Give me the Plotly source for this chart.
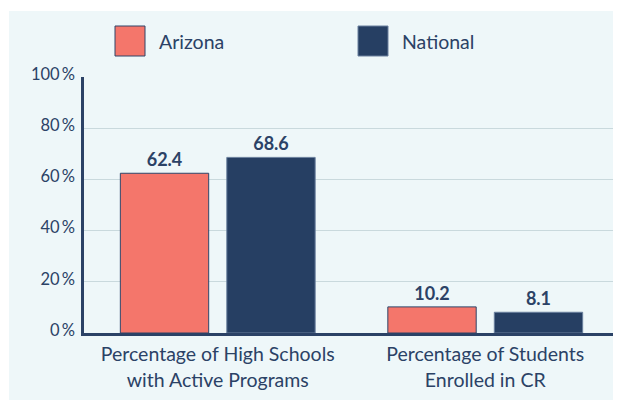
import plotly.graph_objects as go

# ── data ─────────────────────────────────────────────────────
categories = ["Percentage of High Schools<br>with Active Programs",
              "Percentage of Students<br>Enrolled in CR"]
series_names = ["Arizona", "National"]
arizona = [62.4, 10.2]
national = [68.6, 8.1]
y_ticks = [0, 20, 40, 60, 80, 100]

# ── style ────────────────────────────────────────────────────
FONT      = "Lato"
NAVY_TXT  = "#2B4266"
CORAL     = "#F4766B"
NAVY      = "#263F63"
PANEL_BG  = "#EEF7F9"
GRID_CLR  = "#C9D9DD"
AXIS_CLR  = "#2B4266"
EDGE      = {"Arizona": "#2E4569", "National": "#6A809E"}
FILL      = {"Arizona": CORAL, "National": NAVY}

fig = go.Figure()

for name, vals in zip(series_names, [arizona, national]):
    fig.add_trace(go.Bar(
        x=categories, y=vals, name=name,
        marker=dict(color=FILL[name], line=dict(color=EDGE[name], width=1)),
        text=[f"{v:.1f}" for v in vals],
        textposition="outside",
        textfont=dict(family=FONT, size=18, color=NAVY_TXT, weight="bold"),
        cliponaxis=False,
        showlegend=False,
    ))

# ── background panel (pixel offsets from plot-area corner) ───
fig.add_shape(type="rect", layer="below",
              xref="paper", yref="paper",
              xsizemode="pixel", ysizemode="pixel",
              xanchor=0, yanchor=0,
              x0=-75, x1=545, y0=-75, y1=322,
              fillcolor=PANEL_BG, line_width=0)

# ── custom legend: big square swatches ───────────────────────
legend_x = [31, 274]   # px from plot left edge
for name, lx in zip(series_names, legend_x):
    fig.add_shape(type="rect", layer="above",
                  xref="paper", yref="paper",
                  xsizemode="pixel", ysizemode="pixel",
                  xanchor=0, yanchor=1,
                  x0=lx, x1=lx + 30, y0=21, y1=51,
                  fillcolor=FILL[name], line=dict(color=EDGE[name], width=1))
    fig.add_annotation(text=name, xref="paper", yref="paper",
                       x=0, y=1, xanchor="left", yanchor="middle",
                       xshift=lx + 42, yshift=36, showarrow=False,
                       font=dict(family=FONT, size=19.5, color=NAVY_TXT))

fig.update_layout(
    width=621, height=400,
    paper_bgcolor="white",
    plot_bgcolor="rgba(0,0,0,0)",
    barmode="group",
    bargap=0.204,
    bargroupgap=0.17,
    margin=dict(l=76, r=10, t=69, b=75),
    font=dict(family=FONT, color=NAVY_TXT),
)
fig.update_xaxes(
    type="category", range=[-0.5, 1.5], automargin=False,
    showline=True, linecolor=AXIS_CLR, linewidth=2.5,
    showgrid=False, zeroline=False,
    ticklabelstandoff=2,
    tickfont=dict(family=FONT, size=19.5, color=NAVY_TXT),
)
fig.update_yaxes(
    range=[0, 100], tickvals=y_ticks, automargin=False,
    ticktext=[f"{t}\u2009%" for t in y_ticks],
    showline=True, linecolor=AXIS_CLR, linewidth=2.5,
    showgrid=True, gridcolor=GRID_CLR, gridwidth=1,
    zeroline=False,
    ticklabelshift=-3, ticklabelstandoff=3,
    tickfont=dict(family=FONT, size=16.5, color=NAVY_TXT),
)

fig.write_html("out.html")
